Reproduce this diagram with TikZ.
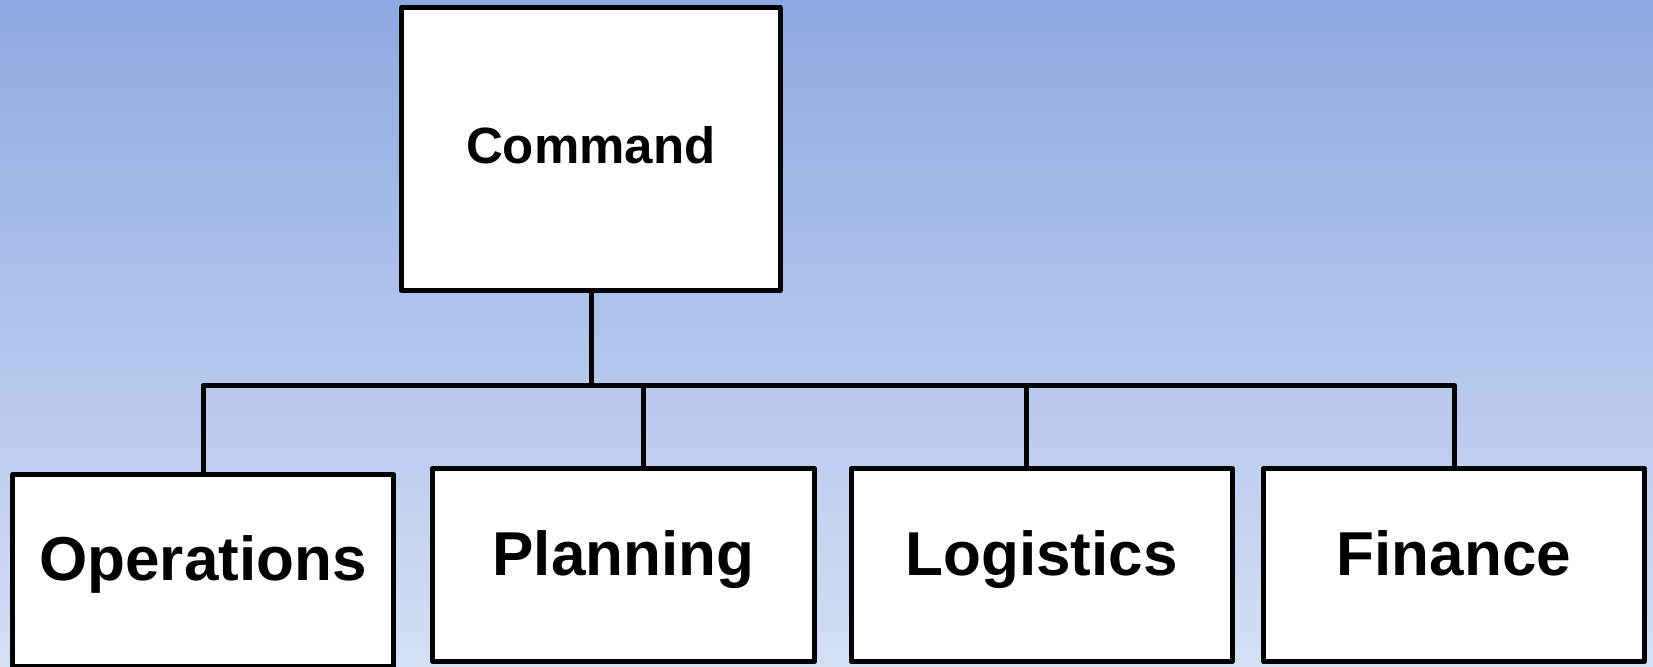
\documentclass[tikz,border=0pt]{standalone}
\usepackage{fontspec}
\setmainfont{Liberation Sans}
\definecolor{bgtop}{RGB}{142,169,225}
\definecolor{bgbot}{RGB}{213,223,245}
\begin{document}
\begin{tikzpicture}[x=0.5pt,y=-0.5pt,
  line join=round,
  orgbox/.style={draw=black, fill=white, line width=2.5pt, rectangle, inner sep=0pt, font=\bfseries},
  topbox/.style={orgbox, minimum width=189.25pt, minimum height=141.5pt,
     font=\bfseries\fontsize{25.5}{30}\selectfont, text height=18.75pt, text depth=4.75pt},
  subbox/.style={orgbox, minimum width=190.5pt, minimum height=96.5pt,
     font=\bfseries\fontsize{31}{36}\selectfont, text height=23.25pt, text depth=13.25pt},
  conn/.style={draw=black, line width=2.5pt}]
\useasboundingbox (0,0) rectangle (1653,666);
\shade[top color=bgtop, bottom color=bgbot] (0,0) rectangle (1653,666);
\node[topbox] (cmd) at (590.75,149) {Command};
\node[subbox, minimum width=190.5pt, minimum height=95.75pt] (ops) at (203,570.25) {Operations};
\node[subbox, minimum width=191pt] (pln) at (623.5,565) {Planning};
\node[subbox] (log) at (1041.5,565) {Logistics};
\node[subbox] (fin) at (1454,565) {Finance};
\coordinate (bus) at (591,385.5);
\coordinate (b1) at (203,385.5);
\coordinate (b2) at (643.5,385.5);
\coordinate (b3) at (1026.5,385.5);
\coordinate (b4) at (1454.5,385.5);
\draw[conn] (cmd.south -| bus) -- (bus);
\draw[conn] (b1 |- ops.north) -- (b1) -- (b4) -- (b4 |- fin.north);
\draw[conn] (b2) -- (b2 |- pln.north);
\draw[conn] (b3) -- (b3 |- log.north);
\end{tikzpicture}
\end{document}
